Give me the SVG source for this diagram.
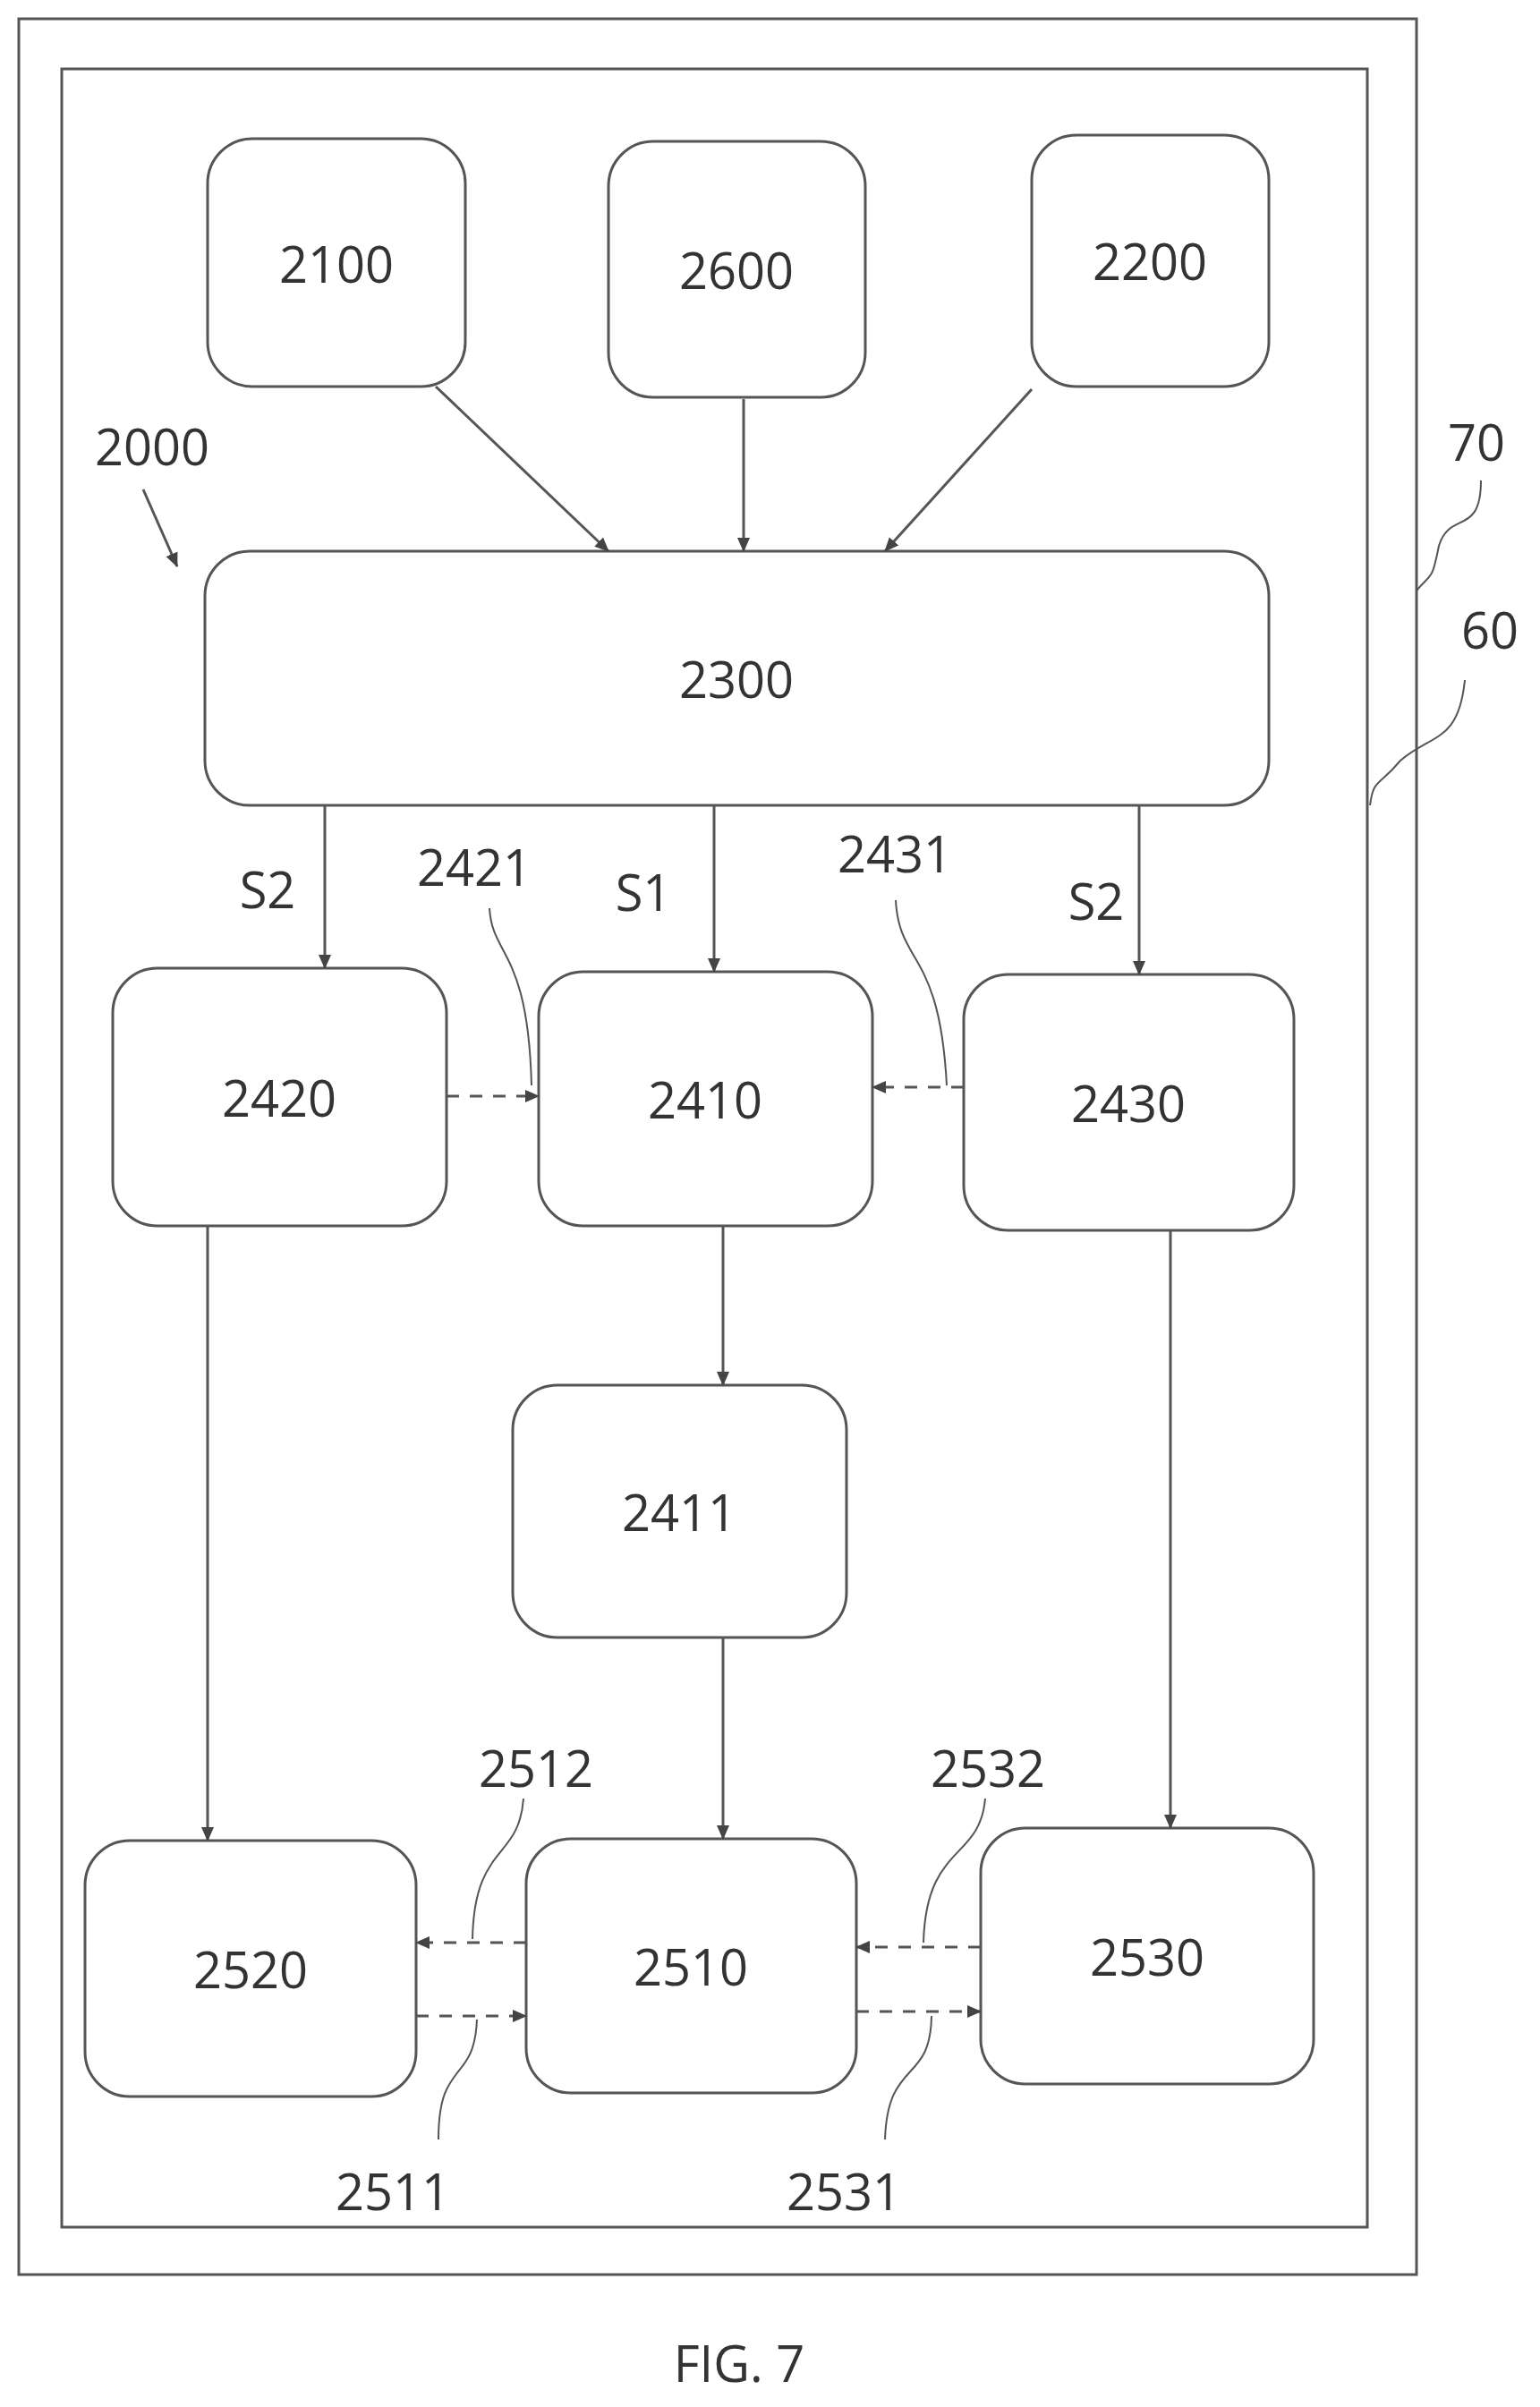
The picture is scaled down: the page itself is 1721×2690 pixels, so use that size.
<svg xmlns="http://www.w3.org/2000/svg" width="1721" height="2690" viewBox="0 0 1721 2690">
<defs>
<marker id="ah" markerWidth="16" markerHeight="16" refX="15" refY="8" orient="auto" markerUnits="userSpaceOnUse" viewBox="0 0 16 16"><path d="M0,1 L16,8 L0,15 z" fill="#444"/></marker>
<style>
.n{fill:#fff;stroke:#555;stroke-width:3}
.t{font-family:"Open Sans",sans-serif;font-size:56px;fill:#333;text-anchor:middle;dominant-baseline:central}
.l{font-family:"Open Sans",sans-serif;font-size:56px;fill:#333}
.c{stroke:#555;stroke-width:3;fill:none}
.a{marker-end:url(#ah)}
.d{stroke-dasharray:14 12}
.ld{stroke:#555;stroke-width:2;fill:none}
</style>
</defs>
<rect width="1721" height="2690" fill="#fff"/>
<rect x="21" y="21" width="1562" height="2521" class="n"/>
<rect x="69" y="77" width="1459" height="2412" class="n"/>
<g id="n2100"><rect x="232" y="155" width="288" height="277" rx="50" class="n"/><text x="376" y="294" class="t">2100</text></g>
<g id="n2600"><rect x="680" y="158" width="287" height="286" rx="50" class="n"/><text x="823" y="301" class="t">2600</text></g>
<g id="n2200"><rect x="1153" y="151" width="265" height="281" rx="50" class="n"/><text x="1285" y="291" class="t">2200</text></g>
<g id="n2300"><rect x="229" y="616" width="1189" height="284" rx="50" class="n"/><text x="823" y="758" class="t">2300</text></g>
<g id="n2420"><rect x="126" y="1082" width="373" height="288" rx="50" class="n"/><text x="312" y="1226" class="t">2420</text></g>
<g id="n2410"><rect x="602" y="1086" width="373" height="284" rx="50" class="n"/><text x="788" y="1228" class="t">2410</text></g>
<g id="n2430"><rect x="1077" y="1089" width="369" height="286" rx="50" class="n"/><text x="1261" y="1232" class="t">2430</text></g>
<g id="n2411"><rect x="573" y="1548" width="373" height="282" rx="50" class="n"/><text x="759" y="1689" class="t">2411</text></g>
<g id="n2520"><rect x="95" y="2057" width="370" height="286" rx="50" class="n"/><text x="280" y="2200" class="t">2520</text></g>
<g id="n2510"><rect x="588" y="2055" width="369" height="284" rx="50" class="n"/><text x="772" y="2197" class="t">2510</text></g>
<g id="n2530"><rect x="1096" y="2043" width="372" height="286" rx="50" class="n"/><text x="1282" y="2186" class="t">2530</text></g>
<g id="connectors">
<line x1="487" y1="432" x2="680" y2="616" class="c a"/>
<line x1="831" y1="446" x2="831" y2="616" class="c a"/>
<line x1="1153" y1="435" x2="989" y2="616" class="c a"/>
<line x1="363" y1="900" x2="363" y2="1082" class="c a"/>
<line x1="798" y1="900" x2="798" y2="1086" class="c a"/>
<line x1="1273" y1="900" x2="1273" y2="1089" class="c a"/>
<line x1="499" y1="1225" x2="602" y2="1225" class="c a d"/>
<line x1="1077" y1="1215" x2="975" y2="1215" class="c a d"/>
<line x1="232" y1="1370" x2="232" y2="2057" class="c a"/>
<line x1="808" y1="1370" x2="808" y2="1548" class="c a"/>
<line x1="808" y1="1830" x2="808" y2="2055" class="c a"/>
<line x1="1308" y1="1375" x2="1308" y2="2043" class="c a"/>
<line x1="588" y1="2171" x2="465" y2="2171" class="c a d"/>
<line x1="465" y1="2253" x2="588" y2="2253" class="c a d"/>
<line x1="1096" y1="2176" x2="957" y2="2176" class="c a d"/>
<line x1="957" y1="2248" x2="1096" y2="2248" class="c a d"/>
<path d="M160,547 L198,633" class="c a"/>
<path d="M547,1015 C550,1070 590,1060 594,1213" class="ld"/>
<path d="M1001,1006 C1005,1080 1050,1060 1058,1213" class="ld"/>
<path d="M585,2010 C580,2080 530,2060 528,2167" class="ld"/>
<path d="M533,2257 C530,2330 490,2300 490,2391" class="ld"/>
<path d="M1101,2010 C1095,2080 1035,2060 1032,2171" class="ld"/>
<path d="M1041,2253 C1040,2330 992,2300 989,2391" class="ld"/>
<path d="M1655,537 C1655,600 1620,570 1608,610 C1600,650 1600,640 1583,660" class="ld"/>
<path d="M1637,760 C1630,830 1600,820 1565,850 C1540,880 1535,870 1531,900" class="ld"/>
</g>
<g id="labels">
<text x="299" y="1015" class="l" text-anchor="middle">S2</text>
<text x="719" y="1018" class="l" text-anchor="middle">S1</text>
<text x="1225" y="1028" class="l" text-anchor="middle">S2</text>
<text x="530" y="990" class="l" text-anchor="middle">2421</text>
<text x="1000" y="975" class="l" text-anchor="middle">2431</text>
<text x="599" y="1997" class="l" text-anchor="middle">2512</text>
<text x="1104" y="1997" class="l" text-anchor="middle">2532</text>
<text x="439" y="2470" class="l" text-anchor="middle">2511</text>
<text x="943" y="2470" class="l" text-anchor="middle">2531</text>
<text x="1650" y="515" class="l" text-anchor="middle">70</text>
<text x="1665" y="725" class="l" text-anchor="middle">60</text>
<text x="170" y="520" class="l" text-anchor="middle">2000</text>
<text x="826" y="2662" class="l" text-anchor="middle" font-size="76">FIG. 7</text>
</g>
</svg>
